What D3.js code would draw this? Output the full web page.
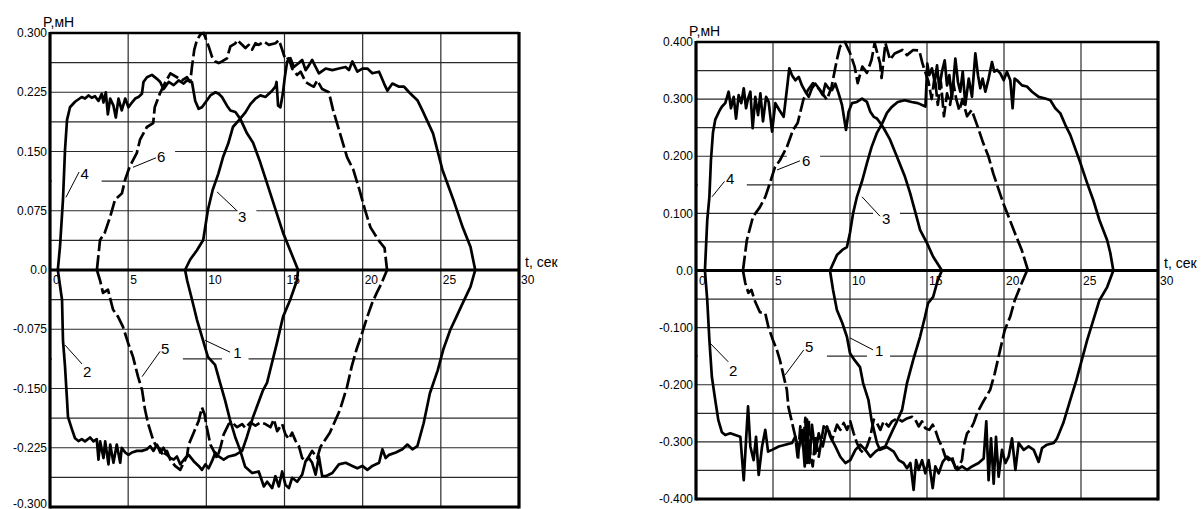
<!DOCTYPE html>
<html><head><meta charset="utf-8">
<script src="https://cdn.jsdelivr.net/npm/d3@7/dist/d3.min.js"></script>
<style>
html,body{margin:0;padding:0;background:#fff;}
svg{display:block;font-family:Arial,"Liberation Sans",sans-serif;}
</style></head>
<body>
<svg id="chart" width="1201" height="509"></svg>
<script>
// ---------- shared axis data ----------
const X_TICKS = [0, 5, 10, 15, 20, 25, 30];
const X_TICK_LABELS = ["0", "5", "10", "15", "20", "25", "30"];
const X_GRID = [5, 10, 15, 20, 25];
const X_TITLE = "t, сек";
const Y_TITLE = "P,мН";

const L_Y_TICKS = [0.3, 0.225, 0.15, 0.075, 0, -0.075, -0.15, -0.225, -0.3];
const L_Y_LABELS = ["0.300", "0.225", "0.150", "0.075", "0.0", "-0.075", "-0.150", "-0.225", "-0.300"];
const L_Y_STEP = 0.0375;
const R_Y_TICKS = [0.4, 0.3, 0.2, 0.1, 0, -0.1, -0.2, -0.3, -0.4];
const R_Y_LABELS = ["0.400", "0.300", "0.200", "0.100", "0.0", "-0.100", "-0.200", "-0.300", "-0.400"];
const R_Y_STEP = 0.05;

// ---------- left panel curves [t, P] ----------
const L1 = [[8.64,0],[8.77,-0.013],[9.09,-0.038],[9.4,-0.063],[9.79,-0.089],[10.1,-0.11],[10.56,-0.12],[10.88,-0.143],[11.2,-0.165],[11.52,-0.19],[11.84,-0.211],[12.16,-0.228],[12.48,-0.249],
 [12.93,-0.257],[13.35,-0.255],[13.68,-0.274],[13.89,-0.268],[14.21,-0.276],[14.42,-0.261],[14.64,-0.274],[14.85,-0.255],[15.06,-0.272],[15.28,-0.276],[15.49,-0.263],[15.81,-0.268],[16.13,-0.259],[16.35,-0.242],[16.56,-0.238],[16.77,-0.244],[16.99,-0.259],[17.2,-0.236],[17.41,-0.261],[17.63,-0.261],[18.06,-0.257],[18.48,-0.246],[18.91,-0.244],[19.34,-0.248],[19.66,-0.251],[19.98,-0.248],[20.3,-0.253],[20.62,-0.248],[21.05,-0.244],[21.26,-0.227],[21.47,-0.238],[21.69,-0.234],[22.12,-0.231],[22.54,-0.227],[22.86,-0.221],[23.18,-0.227],[23.5,-0.223],
 [23.9,-0.194],[24.3,-0.156],[24.8,-0.127],[25.15,-0.101],[25.6,-0.076],[26.0,-0.059],[26.4,-0.042],[26.9,-0.021],[27.2,0]];
const L2 = [[0.5,0],[0.77,-0.038],[0.83,-0.089],[0.96,-0.122],[1.09,-0.165],[1.15,-0.186],[1.41,-0.202],[1.6,-0.213],
 [1.82,-0.2165],[2.03,-0.214],[2.24,-0.217],[2.56,-0.212],[2.78,-0.217],[2.99,-0.214],[3.1,-0.24],[3.21,-0.217],[3.42,-0.238],[3.53,-0.217],[3.74,-0.246],[3.85,-0.221],[4.06,-0.244],[4.27,-0.221],[4.49,-0.244],[4.59,-0.225],[4.81,-0.231],[5.02,-0.234],[5.24,-0.231],[5.56,-0.229],[5.88,-0.229],[6.2,-0.227],[6.41,-0.223],[6.62,-0.229],[6.84,-0.221],[7.05,-0.231],[7.26,-0.225],[7.48,-0.234],[7.69,-0.238],[7.91,-0.24],[8.12,-0.236],[8.33,-0.246],[8.65,-0.238],[8.87,-0.234],[9.19,-0.242],[9.51,-0.248],[9.72,-0.253],[9.94,-0.246],[10.15,-0.251],[10.36,-0.242],[10.58,-0.231],[10.79,-0.236],[11.11,-0.24],[11.43,-0.236],[11.86,-0.234],[12.29,-0.229],
 [12.6,-0.211],[12.99,-0.186],[13.63,-0.152],[13.88,-0.143],[14.52,-0.092],[14.91,-0.059],[15.36,-0.038],[15.8,-0.013],[15.87,0]];
const L3 = [[8.64,0],[8.96,0.013],[9.4,0.025],[9.8,0.038],[10.1,0.076],[10.4,0.101],[10.77,0.122],[11.07,0.143],[11.4,0.16],[11.7,0.181],[12.1,0.19],
 [12.5,0.1995],[12.82,0.21],[13.14,0.217],[13.46,0.221],[13.78,0.219],[14.0,0.223],[14.21,0.227],[14.42,0.232],[14.49,0.238],[14.59,0.208],[14.74,0.206],[14.89,0.223],[15.02,0.244],[15.17,0.264],[15.38,0.268],[15.6,0.257],[15.92,0.262],[16.13,0.266],[16.35,0.253],[16.56,0.259],[16.77,0.266],[16.99,0.257],[17.2,0.249],[17.63,0.255],[18.06,0.253],[18.48,0.255],[18.91,0.257],[19.12,0.253],[19.34,0.264],[19.66,0.251],[19.98,0.255],[20.3,0.255],[20.62,0.249],[21.05,0.251],[21.37,0.236],[21.58,0.227],[21.9,0.236],[22.33,0.232],[22.65,0.232],[22.97,0.225],[23.18,0.221],[23.5,0.215],[23.82,0.202],
 [24.5,0.173],[25.1,0.127],[25.8,0.089],[26.4,0.054],[26.9,0.029],[27.2,0]];
const L4 = [[0.5,0],[0.64,0.03],[0.83,0.089],[0.96,0.152],[1.09,0.19],[1.28,0.206],[1.6,0.213],
 [2.03,0.219],[2.24,0.217],[2.46,0.221],[2.67,0.218],[2.88,0.22],[3.1,0.214],[3.31,0.223],[3.42,0.212],[3.57,0.225],[3.7,0.197],[3.85,0.217],[4.06,0.208],[4.21,0.193],[4.38,0.217],[4.59,0.202],[4.81,0.217],[5.02,0.206],[5.24,0.212],[5.45,0.217],[5.66,0.219],[5.88,0.223],[5.98,0.238],[6.2,0.244],[6.52,0.247],[6.84,0.242],[7.05,0.238],[7.26,0.229],[7.59,0.238],[7.91,0.234],[8.23,0.24],[8.55,0.236],[8.76,0.24],[9.08,0.238],[9.29,0.214],[9.51,0.204],[9.72,0.206],[9.94,0.212],[10.26,0.221],[10.58,0.225],[10.79,0.223],[11.0,0.219],[11.32,0.208],[11.54,0.202],[11.86,0.2],[12.18,0.191],
 [12.6,0.173],[12.99,0.161],[13.4,0.139],[13.88,0.11],[14.5,0.072],[14.91,0.047],[15.87,0]];
const L5 = [[3.0,0],[3.2,-0.013],[3.39,-0.029],[3.71,-0.025],[4.03,-0.05],[4.35,-0.059],[4.67,-0.072],[4.99,-0.092],[5.31,-0.11],[5.63,-0.135],[5.89,-0.152],[6.08,-0.177],[6.27,-0.194],[6.53,-0.211],
 [6.73,-0.221],[7.05,-0.227],[7.26,-0.236],[7.48,-0.229],[7.69,-0.24],[8.0,-0.248],[8.33,-0.253],[8.55,-0.244],[8.76,-0.236],[8.87,-0.221],[9.19,-0.206],[9.51,-0.191],[9.72,-0.174],[9.89,-0.183],[10.04,-0.2],[10.26,-0.221],[10.47,-0.229],[10.68,-0.238],[10.9,-0.225],[11.11,-0.208],[11.43,-0.195],[11.65,-0.193],[11.97,-0.199],[12.29,-0.195],[12.5,-0.2],[12.82,-0.193],[13.14,-0.197],[13.46,-0.193],[13.78,-0.195],[14.1,-0.199],[14.32,-0.189],[14.53,-0.204],[14.85,-0.195],[15.06,-0.208],[15.28,-0.214],[15.49,-0.206],[15.7,-0.216],[15.92,-0.223],[16.13,-0.238],[16.35,-0.242],[16.56,-0.236],[16.77,-0.229],[17.09,-0.238],[17.3,-0.224],
 [17.9,-0.206],[18.55,-0.177],[19.0,-0.148],[19.3,-0.122],[19.6,-0.101],[19.96,-0.08],[20.3,-0.059],[20.6,-0.042],[20.9,-0.029],[21.2,-0.017],[21.56,0]];
const L6 = [[3.0,0],[3.2,0.038],[3.5,0.047],[3.84,0.067],[4.16,0.089],[4.6,0.097],[4.8,0.114],[5.1,0.131],[5.55,0.148],[5.76,0.165],[6.2,0.181],[6.6,0.186],[6.7,0.206],[7.04,0.224],[7.36,0.237],[7.7,0.249],
 [8.12,0.244],[8.44,0.24],[8.76,0.244],[8.97,0.238],[9.08,0.257],[9.23,0.279],[9.4,0.291],[9.62,0.298],[9.83,0.3],[10.15,0.283],[10.36,0.27],[10.58,0.264],[10.79,0.262],[11.0,0.264],[11.32,0.268],[11.54,0.283],[11.86,0.287],[11.97,0.291],[12.29,0.285],[12.5,0.281],[12.71,0.285],[12.93,0.279],[13.14,0.287],[13.35,0.285],[13.68,0.289],[14.0,0.285],[14.42,0.287],[14.64,0.291],[14.85,0.279],[15.06,0.266],[15.28,0.268],[15.49,0.255],[15.81,0.247],[16.03,0.251],[16.35,0.238],[16.67,0.234],[16.88,0.232],[17.09,0.24],[17.41,0.229],[17.84,0.225],
 [18.1,0.203],[18.55,0.173],[19.0,0.143],[19.4,0.127],[19.8,0.101],[20.15,0.076],[20.5,0.054],[21.0,0.038],[21.4,0.028],[21.56,0]];

// ---------- right panel curves [t, P] ----------
const R1 = [[8.7,0],[8.9,-0.034],[9.15,-0.069],[9.5,-0.092],[9.8,-0.116],[10.0,-0.145],[10.3,-0.157],[10.65,-0.169],[10.85,-0.197],[11.2,-0.227],[11.4,-0.262],[11.75,-0.302],[11.95,-0.314],[12.4,-0.309],
 [12.84,-0.317],[13.16,-0.332],[13.48,-0.337],[13.7,-0.346],[13.92,-0.337],[14.13,-0.384],[14.29,-0.332],[14.46,-0.349],[14.68,-0.332],[14.89,-0.355],[15.11,-0.332],[15.37,-0.381],[15.54,-0.343],[15.76,-0.355],[16.02,-0.335],[16.3,-0.326],[16.62,-0.332],[16.95,-0.349],[17.27,-0.343],[17.6,-0.349],[17.92,-0.343],[18.35,-0.337],[18.68,-0.329],[18.85,-0.264],[19.0,-0.367],[19.16,-0.294],[19.33,-0.373],[19.48,-0.291],[19.65,-0.361],[19.87,-0.314],[20.09,-0.337],[20.3,-0.326],[20.52,-0.294],[20.74,-0.349],[20.95,-0.302],[21.28,-0.314],[21.6,-0.308],[21.93,-0.314],[22.25,-0.335],[22.47,-0.311],[22.79,-0.305],[23.23,-0.302],[23.44,-0.294],
 [23.85,-0.267],[24.3,-0.227],[24.7,-0.192],[25.05,-0.157],[25.4,-0.122],[25.8,-0.087],[26.2,-0.052],[26.7,-0.029],[27.1,0]];
const R2 = [[0.58,0],[0.73,-0.052],[0.87,-0.122],[1.03,-0.186],[1.25,-0.227],[1.45,-0.262],[1.68,-0.283],
 [1.9,-0.288],[2.23,-0.285],[2.55,-0.288],[2.88,-0.291],[3.1,-0.367],[3.25,-0.297],[3.38,-0.238],[3.53,-0.308],[3.74,-0.332],[3.9,-0.291],[4.07,-0.358],[4.29,-0.308],[4.5,-0.279],[4.68,-0.317],[4.94,-0.314],[5.37,-0.308],[5.8,-0.305],[6.23,-0.302],[6.45,-0.291],[6.67,-0.314],[6.88,-0.279],[7.06,-0.343],[7.21,-0.261],[7.36,-0.337],[7.53,-0.27],[7.75,-0.32],[7.97,-0.285],[8.23,-0.308],[8.51,-0.273],[8.72,-0.291],[9.05,-0.308],[9.37,-0.326],[9.7,-0.337],[10.02,-0.332],[10.35,-0.314],[10.67,-0.305],[11.0,-0.314],[11.32,-0.326],[11.65,-0.317],[11.97,-0.311],[12.29,-0.308],
 [12.73,-0.282],[13.05,-0.264],[13.38,-0.244],[13.7,-0.197],[14.1,-0.157],[14.55,-0.116],[14.87,-0.081],[15.07,-0.057],[15.4,-0.046],[15.7,-0.017],[15.97,0]];
const R3 = [[8.7,0],[9.15,0.027],[9.5,0.036],[9.8,0.041],[10.0,0.066],[10.2,0.1],[10.45,0.129],[10.8,0.158],[11.1,0.188],[11.4,0.216],[11.75,0.241],[12.1,0.258],[12.4,0.276],[12.7,0.286],[13.1,0.295],[13.55,0.298],[14.0,0.295],[14.4,0.293],[14.9,0.287],
 [15.02,0.362],[15.15,0.342],[15.32,0.354],[15.5,0.33],[15.65,0.359],[15.8,0.319],[15.97,0.348],[16.15,0.368],[16.3,0.324],[16.45,0.342],[16.62,0.301],[16.84,0.371],[17.01,0.33],[17.16,0.313],[17.32,0.348],[17.49,0.29],[17.71,0.336],[17.92,0.304],[18.14,0.38],[18.31,0.342],[18.46,0.319],[18.61,0.336],[18.79,0.313],[19.0,0.336],[19.22,0.365],[19.37,0.348],[19.55,0.351],[19.76,0.345],[19.98,0.333],[20.19,0.348],[20.41,0.333],[20.56,0.284],[20.69,0.336],[20.84,0.333],[21.17,0.324],[21.49,0.322],[21.82,0.313],[22.25,0.304],[22.68,0.301],[23.01,0.298],[23.33,0.284],[23.66,0.275],[23.98,0.255],[24.31,0.237],
 [24.9,0.193],[25.4,0.153],[25.8,0.123],[26.2,0.088],[26.7,0.053],[26.9,0.031],[27.1,0]];
const R4 = [[0.58,0],[0.73,0.088],[0.87,0.129],[0.97,0.193],[1.1,0.241],[1.25,0.264],[1.55,0.281],
 [1.69,0.287],[1.9,0.293],[2.12,0.313],[2.27,0.284],[2.45,0.304],[2.6,0.266],[2.77,0.307],[2.94,0.293],[3.1,0.319],[3.25,0.284],[3.38,0.301],[3.53,0.313],[3.68,0.249],[3.85,0.304],[4.03,0.272],[4.18,0.31],[4.35,0.261],[4.55,0.304],[4.72,0.295],[4.94,0.243],[5.15,0.293],[5.41,0.281],[5.69,0.269],[5.91,0.319],[6.06,0.354],[6.23,0.342],[6.45,0.333],[6.67,0.339],[6.88,0.324],[7.1,0.313],[7.32,0.304],[7.53,0.319],[7.75,0.327],[7.97,0.319],[8.23,0.307],[8.4,0.327],[8.61,0.319],[8.83,0.316],[9.05,0.327],[9.26,0.31],[9.48,0.29],[9.74,0.246],[9.91,0.278],[10.13,0.293],[10.45,0.295],[10.78,0.301],[11.1,0.295],[11.32,0.278],[11.54,0.269],[11.75,0.266],[11.97,0.258],[12.19,0.249],
 [12.6,0.229],[13.05,0.199],[13.57,0.164],[13.9,0.136],[14.2,0.106],[14.55,0.071],[15.0,0.048],[15.4,0.024],[15.97,0]];
const R5 = [[3.05,0],[3.2,-0.022],[3.4,-0.039],[3.6,-0.034],[3.8,-0.052],[4.15,-0.073],[4.5,-0.075],[4.7,-0.099],[5.0,-0.122],[5.25,-0.139],[5.45,-0.157],[5.65,-0.18],[5.9,-0.209],[6.0,-0.239],[6.2,-0.262],
 [6.45,-0.291],[6.62,-0.332],[6.77,-0.273],[6.95,-0.308],[7.1,-0.258],[7.21,-0.337],[7.32,-0.261],[7.42,-0.32],[7.58,-0.343],[7.75,-0.291],[7.97,-0.326],[8.29,-0.273],[8.61,-0.279],[8.83,-0.297],[9.16,-0.27],[9.37,-0.279],[9.59,-0.267],[9.81,-0.279],[10.02,-0.264],[10.24,-0.285],[10.45,-0.302],[10.67,-0.314],[10.89,-0.32],[11.1,-0.308],[11.32,-0.291],[11.54,-0.261],[11.75,-0.267],[11.97,-0.279],[12.19,-0.264],[12.51,-0.273],[12.73,-0.264],[13.05,-0.259],[13.38,-0.264],[13.7,-0.259],[14.03,-0.256],[14.24,-0.261],[14.46,-0.273],[14.68,-0.264],[14.89,-0.276],[15.15,-0.279],[15.37,-0.27],[15.54,-0.279],[15.76,-0.297],[15.97,-0.308],[16.19,-0.326],[16.41,-0.332],[16.62,-0.326],[16.84,-0.346],[17.06,-0.343],[17.27,-0.332],[17.38,-0.308],[17.6,-0.285],[17.81,-0.279],[18.03,-0.267],[18.25,-0.25],[18.6,-0.232],
 [19.1,-0.209],[19.4,-0.18],[19.75,-0.139],[20.05,-0.104],[20.4,-0.081],[20.7,-0.052],[21.15,-0.022],[21.5,0]];
const R6 = [[3.05,0],[3.3,0.053],[3.7,0.094],[4.15,0.111],[4.5,0.129],[4.8,0.153],[5.13,0.181],[5.45,0.193],[5.9,0.216],[6.3,0.246],[6.6,0.258],[6.97,0.299],[7.27,0.316],[7.6,0.328],[8.05,0.316],[8.5,0.299],[8.8,0.321],[9.15,0.369],[9.35,0.392],[9.67,0.4],[10.0,0.381],[10.3,0.357],[10.5,0.328],[10.8,0.357],[11.1,0.346],[11.4,0.369],[11.6,0.398],[11.95,0.363],[12.05,0.337],[12.3,0.398],[12.6,0.369],[12.9,0.38],[13.4,0.386],[13.7,0.377],[14.1,0.386],[14.5,0.385],[14.7,0.363],
 [15.1,0.33],[15.3,0.30],[15.5,0.34],[15.7,0.29],[15.9,0.33],[16.1,0.27],[16.3,0.31],[16.5,0.29],[16.7,0.33],[16.9,0.30],[17.1,0.28],[17.3,0.30],[17.6,0.27],[17.9,0.281],
 [18.3,0.251],[18.65,0.223],[19.0,0.199],[19.3,0.17],[19.6,0.146],[19.95,0.118],[20.3,0.094],[20.7,0.066],[21.15,0.036],[21.56,0]];

// ---------- curve labels: [name, labelT, labelP, leaderFrom(t,P), leaderTo(t,P)] ----------
const L_LABELS = [["4",1.95,0.1215,1.02,0.092,1.86,0.124],["6",6.85,0.143,5.31,0.130,6.78,0.142],["3",12.03,0.068,10.68,0.099,11.96,0.075],
                  ["2",2.11,-0.129,0.96,-0.095,2.05,-0.119],["5",7.1,-0.100,5.89,-0.135,7.04,-0.103],["1",11.72,-0.105,9.92,-0.089,11.52,-0.104]];
const R_LABELS = [["4",1.95,0.160,1.04,0.129,1.85,0.156],["6",6.88,0.192,5.26,0.176,6.75,0.192],["3",12.08,0.090,10.78,0.129,11.95,0.095],
                  ["2",2.14,-0.176,0.91,-0.127,2.1,-0.160],["5",7.08,-0.134,5.78,-0.183,7.0,-0.139],["1",11.62,-0.141,10.0,-0.118,11.5,-0.139]];
// gaps in horizontal grid lines: [P, t0, t1]
const L_GAPS = [[0.1125,0,3.3],[0.15,5.3,8.0],[0.075,12.0,13.2],[-0.1125,0,8.5],[-0.1125,11.0,12.7]];
const R_GAPS = [[0.15,0,3.3],[0.2,5.9,8.05],[0.1,11.5,13.25],[-0.15,0,8.5],[-0.15,11.1,12.6]];

const svg = d3.select("#chart");
const H = 509;

function drawPanel(cfg) {
  const x = d3.scaleLinear().domain([0, 30]).range(cfg.xr);
  const y = d3.scaleLinear().domain(cfg.yd).range(cfg.yr);
  const g = svg.append("g");
  const [x0, x1] = cfg.xr, [yb, yt] = cfg.yr;
  const ymax = cfg.yd[1];
  // horizontal grid
  const hv = d3.range(-16, 17).map(i => i * cfg.step).filter(v => Math.abs(v) < ymax - 1e-9 && Math.abs(v) > 1e-9);
  g.selectAll(".hg").data(hv).join("line")
    .attr("x1", x0).attr("x2", x1).attr("y1", d => y(d)).attr("y2", d => y(d))
    .attr("stroke", "#2a2a2a").attr("stroke-width", 1.2);
  // gaps
  g.selectAll(".gap").data(cfg.gaps).join("rect")
    .attr("x", d => x(d[1]) + (d[1] === 0 ? 2 : 0)).attr("width", d => x(d[2]) - x(d[1]) - (d[1] === 0 ? 2 : 0))
    .attr("y", d => y(d[0]) - 2).attr("height", 4).attr("fill", "#fff");
  // vertical grid
  g.selectAll(".vg").data(X_GRID).join("line")
    .attr("x1", d => x(d)).attr("x2", d => x(d)).attr("y1", yt).attr("y2", yb)
    .attr("stroke", "#2a2a2a").attr("stroke-width", 1.2);
  // y tick labels (kept inside the picture at the bottom edge)
  g.selectAll(".yl").data(cfg.yticks).join("text")
    .attr("x", x0 - 3).attr("y", d => Math.min(y(d) + 4.2, H - 1.5))
    .attr("text-anchor", "end").attr("font-size", 12).attr("fill", "#000")
    .text((d, i) => cfg.ylabels[i]);
  // x tick labels
  g.selectAll(".xl").data(X_TICKS).join("text")
    .attr("x", d => x(d) + (d === 0 ? 3 : 2)).attr("y", y(0) + 14)
    .attr("font-size", 12).attr("fill", "#000")
    .text((d, i) => X_TICK_LABELS[i]);
  // titles
  g.append("text").attr("x", x0 - 7).attr("y", yt - 6).attr("font-size", 14).attr("fill", "#000").text(Y_TITLE);
  g.append("text").attr("x", x1 + 6).attr("y", y(0) - 3).attr("font-size", 14).attr("fill", "#000").text(X_TITLE);
  // curves
  const line = d3.line().x(d => x(d[0])).y(d => y(d[1]));
  cfg.curves.forEach(c => {
    g.append("path").attr("d", line(c.data)).attr("fill", "none")
      .attr("stroke", "#000").attr("stroke-width", 2.7)
      .attr("stroke-linejoin", "round").attr("stroke-linecap", "butt")
      .attr("stroke-dasharray", c.dash ? "15,4" : null);
  });
  // curve labels
  cfg.labels.forEach(l => {
    g.append("line").attr("x1", x(l[3])).attr("y1", y(l[4])).attr("x2", x(l[5])).attr("y2", y(l[6]))
      .attr("stroke", "#000").attr("stroke-width", 1);
    g.append("text").attr("x", x(l[1])).attr("y", y(l[2])).attr("dy", "0.35em")
      .attr("font-size", 15).attr("fill", "#000").text(l[0]);
  });
  // zero axis
  g.append("line").attr("x1", x0).attr("x2", x1).attr("y1", y(0)).attr("y2", y(0))
    .attr("stroke", "#000").attr("stroke-width", 3.2);
  // frame
  g.append("line").attr("x1", x0).attr("x2", x1).attr("y1", yt).attr("y2", yt).attr("stroke", "#000").attr("stroke-width", 2.5);
  g.append("line").attr("x1", x0).attr("x2", x1).attr("y1", yb).attr("y2", yb).attr("stroke", "#000").attr("stroke-width", 3);
  g.append("line").attr("x1", x0).attr("x2", x0).attr("y1", yt - 1).attr("y2", yb + 1.5).attr("stroke", "#000").attr("stroke-width", 3.2);
  g.append("line").attr("x1", x1).attr("x2", x1).attr("y1", yt - 1).attr("y2", yb + 1.5).attr("stroke", "#000").attr("stroke-width", 3.2);
}

drawPanel({xr: [50, 519], yr: [507, 33], yd: [-0.3, 0.3], step: L_Y_STEP,
  yticks: L_Y_TICKS, ylabels: L_Y_LABELS, gaps: L_GAPS, labels: L_LABELS,
  curves: [{data: L1}, {data: L2}, {data: L3}, {data: L4}, {data: L5, dash: true}, {data: L6, dash: true}]});
drawPanel({xr: [696, 1158], yr: [499, 42], yd: [-0.4, 0.4], step: R_Y_STEP,
  yticks: R_Y_TICKS, ylabels: R_Y_LABELS, gaps: R_GAPS, labels: R_LABELS,
  curves: [{data: R1}, {data: R2}, {data: R3}, {data: R4}, {data: R5, dash: true}, {data: R6, dash: true}]});
</script>
</body></html>
